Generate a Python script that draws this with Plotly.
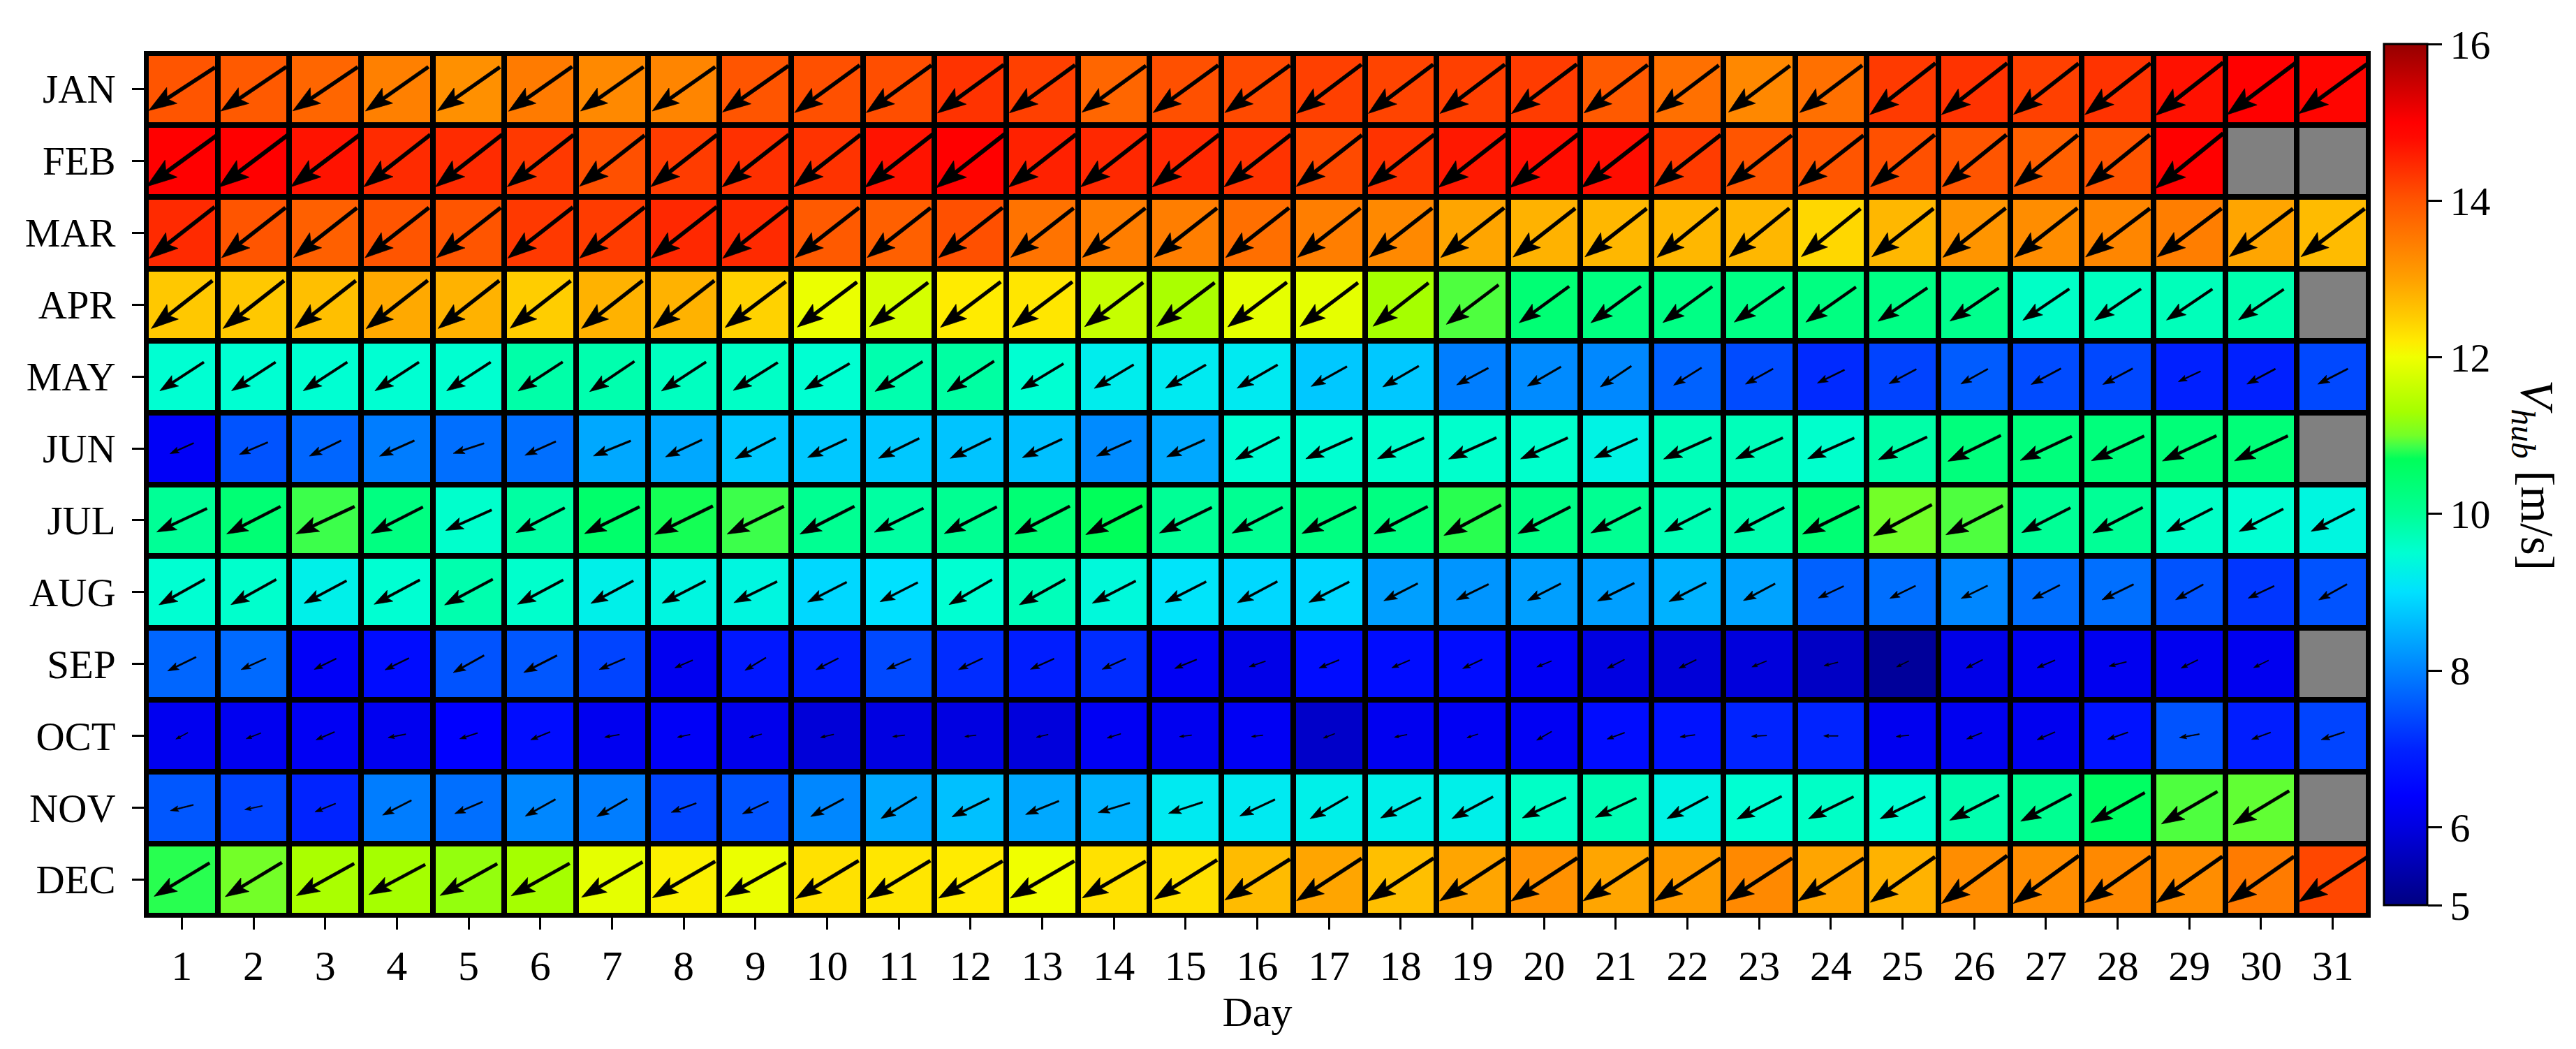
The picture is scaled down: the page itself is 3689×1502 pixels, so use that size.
import math
import plotly.graph_objects as go

MONTHS = ["JAN", "FEB", "MAR", "APR", "MAY", "JUN", "JUL", "AUG", "SEP", "OCT", "NOV", "DEC"]
DAYS = list(range(1, 32))

# daily mean hub-height wind speed [m/s] (None = day does not exist)
V_JAN = [14.0, 13.93, 13.77, 13.43, 13.21, 13.5, 13.3, 13.36, 14.0, 14.05, 14.08, 14.36, 14.22, 13.77, 14.05, 14.12,
         14.22, 14.18, 14.22, 14.27, 13.93, 13.64, 13.32, 13.64, 14.29, 14.36, 14.22, 14.36, 14.73, 15.0, 14.9]
V_FEB = [15.0, 15.0, 14.7, 14.45, 14.45, 14.3, 14.05, 14.27, 14.4, 14.36, 14.7, 15.0, 14.56, 14.48, 14.48, 14.36,
         14.12, 14.36, 14.65, 14.77, 14.77, 14.27, 14.0, 14.0, 14.05, 14.0, 13.85, 14.0, 15.0, None, None]
V_MAR = [14.46, 14.0, 13.85, 14.0, 14.0, 14.3, 14.27, 14.48, 14.46, 13.93, 13.85, 14.05, 13.6, 13.45, 13.45, 13.65,
         13.45, 13.3, 12.95, 12.8, 12.75, 12.75, 12.75, 12.4, 12.75, 13.15, 13.25, 13.35, 13.45, 12.95, 12.7]
V_APR = [12.55, 12.55, 12.65, 12.9, 12.8, 12.5, 12.8, 12.8, 12.45, 11.95, 11.75, 12.2, 12.25, 11.6, 11.35, 11.9,
         11.9, 11.3, 10.9, 10.4, 10.25, 10.2, 10.2, 10.25, 10.2, 10.1, 9.6, 9.65, 9.7, 9.8, None]
V_MAY = [9.5, 9.5, 9.5, 9.5, 9.52, 9.85, 9.8, 9.65, 9.6, 9.5, 9.8, 9.9, 9.5, 9.2, 9.15, 9.15,
         8.74, 8.74, 7.96, 8.1, 8.06, 7.66, 7.42, 7.07, 7.34, 7.6, 7.42, 7.39, 6.95, 6.95, 7.39]
V_JUN = [6.3, 7.5, 7.7, 7.95, 7.8, 7.8, 8.4, 8.4, 8.74, 8.74, 8.74, 8.7, 8.65, 8.1, 8.4, 9.5,
         9.5, 9.55, 9.55, 9.55, 9.3, 9.7, 9.7, 9.55, 9.85, 10.3, 10.3, 10.3, 10.35, 10.35, None]
V_JUL = [10.0, 10.4, 10.85, 10.25, 9.55, 9.9, 10.5, 10.75, 10.85, 10.05, 9.9, 10.05, 10.4, 10.7, 10.0, 10.05,
         10.25, 10.25, 10.8, 10.2, 10.05, 9.75, 9.8, 10.4, 11.0, 10.9, 10.0, 10.0, 9.6, 9.5, 9.35]
V_AUG = [9.5, 9.55, 9.25, 9.5, 9.8, 9.55, 9.25, 9.35, 9.35, 8.9, 9.0, 9.5, 9.7, 9.4, 9.05, 8.9,
         8.9, 8.3, 8.2, 8.3, 8.3, 8.5, 8.35, 7.65, 7.8, 8.05, 7.8, 7.8, 7.5, 7.2, 7.5]
V_SEP = [7.7, 7.75, 6.3, 6.6, 7.5, 7.55, 7.35, 6.2, 6.8, 6.9, 7.4, 7.1, 6.9, 7.1, 6.25, 6.1,
         6.6, 6.6, 6.6, 6.25, 6.0, 5.9, 5.95, 5.7, 5.25, 6.1, 6.2, 6.2, 6.2, 6.2, None]
V_OCT = [6.2, 6.2, 6.25, 6.2, 6.4, 6.6, 6.2, 6.3, 6.15, 5.9, 6.0, 6.0, 5.95, 6.25, 6.2, 6.25,
         5.75, 6.2, 6.25, 6.25, 6.6, 6.7, 7.0, 7.0, 6.2, 6.2, 6.2, 6.7, 7.5, 6.9, 7.35]
V_NOV = [7.55, 7.35, 7.0, 7.95, 7.8, 8.05, 7.95, 7.35, 7.5, 8.05, 8.4, 8.65, 8.4, 8.5, 9.15, 9.15,
         9.25, 9.25, 9.25, 9.6, 9.75, 9.3, 9.5, 9.6, 9.5, 9.8, 10.05, 10.6, 10.9, 10.95, None]
V_DEC = [10.8, 11.0, 11.35, 11.3, 11.2, 11.3, 11.9, 12.15, 11.95, 12.3, 12.25, 12.2, 12.0, 12.3, 12.3, 12.7,
         12.95, 12.65, 12.95, 13.2, 12.95, 13.05, 13.3, 12.95, 12.8, 13.25, 13.25, 13.3, 13.25, 13.5, 14.15]

# mean wind vector: arrow length (in cell widths) and direction (deg below the horizontal, towards the left)
L_JAN = [1.10, 1.10, 1.09, 1.07, 1.06, 1.08, 1.07, 1.07, 1.12, 1.12, 1.12, 1.14, 1.13, 1.10, 1.12, 1.12,
         1.13, 1.13, 1.13, 1.14, 1.11, 1.09, 1.07, 1.09, 1.16, 1.16, 1.15, 1.16, 1.19, 1.19, 1.17]
L_FEB = [1.22, 1.22, 1.20, 1.18, 1.18, 1.17, 1.15, 1.17, 1.18, 1.18, 1.20, 1.22, 1.19, 1.18, 1.18, 1.18,
         1.16, 1.18, 1.20, 1.21, 1.21, 1.17, 1.15, 1.15, 1.15, 1.15, 1.14, 1.15, 1.21, None, None]
L_MAR = [1.16, 1.13, 1.12, 1.13, 1.13, 1.15, 1.15, 1.16, 1.16, 1.13, 1.12, 1.13, 1.11, 1.11, 1.11, 1.12,
         1.11, 1.11, 1.12, 1.10, 1.09, 1.09, 1.08, 1.06, 1.09, 1.11, 1.11, 1.12, 1.12, 1.11, 1.11]
L_APR = [1.08, 1.08, 1.08, 1.09, 1.08, 1.07, 1.08, 1.08, 1.06, 1.04, 1.02, 1.05, 1.05, 1.02, 1.01, 1.03,
         1.01, 0.98, 0.91, 0.86, 0.86, 0.85, 0.85, 0.85, 0.83, 0.82, 0.78, 0.78, 0.77, 0.76, None]
L_MAY = [0.73, 0.73, 0.73, 0.73, 0.73, 0.74, 0.75, 0.74, 0.73, 0.72, 0.78, 0.78, 0.69, 0.64, 0.65, 0.65,
         0.57, 0.58, 0.50, 0.54, 0.52, 0.46, 0.44, 0.42, 0.43, 0.43, 0.47, 0.47, 0.34, 0.45, 0.47]
L_JUN = [0.36, 0.43, 0.49, 0.53, 0.45, 0.47, 0.56, 0.56, 0.63, 0.60, 0.63, 0.63, 0.61, 0.53, 0.58, 0.69,
         0.71, 0.71, 0.73, 0.72, 0.66, 0.73, 0.72, 0.71, 0.75, 0.82, 0.79, 0.81, 0.83, 0.82, None]
L_JUL = [0.77, 0.84, 0.90, 0.81, 0.70, 0.76, 0.85, 0.90, 0.88, 0.85, 0.76, 0.82, 0.86, 0.88, 0.81, 0.79,
         0.84, 0.84, 0.90, 0.82, 0.78, 0.72, 0.78, 0.88, 0.92, 0.89, 0.76, 0.78, 0.72, 0.69, 0.68]
L_AUG = [0.73, 0.72, 0.67, 0.72, 0.76, 0.72, 0.67, 0.68, 0.67, 0.61, 0.59, 0.69, 0.73, 0.68, 0.64, 0.63,
         0.63, 0.53, 0.50, 0.52, 0.57, 0.58, 0.50, 0.39, 0.40, 0.41, 0.43, 0.49, 0.44, 0.40, 0.45]
L_SEP = [0.44, 0.38, 0.34, 0.37, 0.49, 0.52, 0.39, 0.27, 0.34, 0.35, 0.37, 0.37, 0.36, 0.36, 0.33, 0.24,
         0.30, 0.27, 0.30, 0.22, 0.27, 0.27, 0.22, 0.20, 0.19, 0.26, 0.27, 0.25, 0.26, 0.23, None]
L_OCT = [0.19, 0.22, 0.28, 0.25, 0.26, 0.29, 0.21, 0.18, 0.18, 0.19, 0.17, 0.16, 0.17, 0.20, 0.17, 0.16,
         0.17, 0.18, 0.16, 0.24, 0.26, 0.21, 0.21, 0.20, 0.18, 0.23, 0.27, 0.30, 0.28, 0.28, 0.34]
L_NOV = [0.33, 0.25, 0.31, 0.45, 0.42, 0.48, 0.49, 0.37, 0.40, 0.52, 0.58, 0.58, 0.50, 0.46, 0.50, 0.54,
         0.61, 0.63, 0.65, 0.67, 0.63, 0.65, 0.70, 0.70, 0.70, 0.77, 0.80, 0.86, 0.90, 0.91, None]
L_DEC = [0.90, 0.92, 0.92, 0.89, 0.91, 0.93, 0.98, 1.01, 0.97, 1.02, 1.02, 1.03, 1.03, 1.02, 1.03, 1.07,
         1.08, 1.09, 1.09, 1.10, 1.09, 1.09, 1.09, 1.09, 1.10, 1.13, 1.13, 1.12, 1.12, 1.12, 1.13]

D_JAN = [33, 34, 34, 35, 35, 35, 35, 35, 35, 36, 36, 36, 36, 36, 36, 36,
         37, 37, 37, 37, 37, 37, 37, 37, 38, 38, 38, 38, 38, 37, 36]
D_FEB = [36, 37, 37, 38, 38, 38, 38, 38, 38, 38, 38, 38, 38, 38, 38, 38,
         38, 38, 38, 38, 38, 38, 38, 38, 39, 39, 39, 39, 39, None, None]
D_MAR = [38, 38, 38, 38, 38, 38, 38, 38, 38, 38, 38, 38, 38, 38, 38, 38,
         38, 38, 38, 38, 38, 39, 39, 39, 38, 38, 38, 37, 37, 37, 37]
D_APR = [38, 38, 38, 38, 38, 38, 38, 38, 37, 37, 37, 37, 37, 37, 37, 37,
         37, 38, 37, 36, 36, 36, 35, 35, 34, 34, 34, 34, 34, 34, None]
D_MAY = [33, 33, 33, 33, 33, 33, 34, 33, 32, 30, 32, 33, 31, 31, 30, 30,
         29, 30, 28, 30, 34, 32, 29, 26, 28, 29, 28, 28, 25, 28, 27]
D_JUN = [24, 23, 26, 24, 18, 24, 22, 25, 27, 25, 26, 26, 25, 24, 24, 27,
         24, 24, 24, 24, 24, 24, 24, 24, 25, 26, 25, 25, 25, 25, None]
D_JUL = [25, 27, 25, 27, 24, 27, 26, 26, 26, 27, 26, 27, 27, 27, 26, 27,
         26, 27, 28, 27, 27, 27, 27, 26, 28, 27, 27, 27, 27, 27, 27]
D_AUG = [29, 29, 28, 28, 28, 28, 28, 27, 26, 27, 27, 30, 29, 27, 27, 28,
         27, 27, 26, 27, 26, 27, 28, 25, 26, 26, 27, 26, 29, 25, 29]
D_SEP = [26, 24, 26, 26, 29, 27, 23, 23, 31, 27, 23, 25, 24, 24, 22, 19,
         22, 23, 25, 22, 27, 26, 22, 14, 26, 27, 23, 14, 26, 26, None]
D_OCT = [28, 21, 23, 11, 18, 22, 10, 12, 16, 13, 7, 7, 13, 17, 7, 7,
         21, 12, 18, 30, 20, 8, 3, 0, 6, 22, 23, 19, 10, 20, 18]
D_NOV = [14, 12, 22, 27, 23, 29, 30, 20, 25, 28, 31, 26, 22, 17, 18, 25,
         30, 27, 28, 25, 25, 28, 27, 26, 26, 27, 28, 29, 30, 31, None]
D_DEC = [31, 31, 29, 28, 29, 29, 30, 30, 29, 31, 31, 30, 30, 30, 32, 32,
         33, 33, 33, 33, 33, 33, 33, 33, 35, 36, 36, 35, 35, 35, 33]

SPEED = [V_JAN, V_FEB, V_MAR, V_APR, V_MAY, V_JUN, V_JUL, V_AUG, V_SEP, V_OCT, V_NOV, V_DEC]
ARROW_LEN = [L_JAN, L_FEB, L_MAR, L_APR, L_MAY, L_JUN, L_JUL, L_AUG, L_SEP, L_OCT, L_NOV, L_DEC]
ARROW_DIR = [D_JAN, D_FEB, D_MAR, D_APR, D_MAY, D_JUN, D_JUL, D_AUG, D_SEP, D_OCT, D_NOV, D_DEC]

CB_TICKS = [5, 6, 8, 10, 12, 14, 16]
VMIN, VMAX = 5, 16

# jet-like colour map as seen on the colour bar
CMAP = [(5.0, (0, 0, 130)), (6.0, (0, 0, 225)), (6.4, (0, 0, 255)), (7.0, (0, 35, 255)),
        (8.0, (0, 130, 255)), (9.0, (0, 225, 255)), (9.5, (0, 255, 210)), (10.0, (0, 255, 150)),
        (10.7, (0, 255, 90)), (10.85, (60, 255, 75)), (11.0, (115, 255, 40)), (11.3, (165, 255, 0)),
        (12.0, (240, 255, 0)), (12.2, (255, 235, 0)), (12.5, (255, 205, 0)), (13.0, (255, 160, 0)),
        (14.0, (255, 85, 0)), (14.8, (255, 10, 0)), (15.0, (255, 0, 0)), (16.0, (150, 0, 0))]
colorscale = [[(v - VMIN) / (VMAX - VMIN), "rgb(%d,%d,%d)" % c] for v, c in CMAP]

FONT = "Liberation Serif"
rows = list(range(len(MONTHS)))

missing = [[1 if v is None else None for v in row] for row in SPEED]

# quiver-style arrows (pivot in the cell centre), built as filled polygons
ax_x, ax_y = [], []
for m in rows:
    for d in range(len(DAYS)):
        L = ARROW_LEN[m][d]
        if L is None:
            continue
        th = math.radians(ARROW_DIR[m][d])
        ux, uy = -math.cos(th), math.sin(th)  # y axis is reversed: +y is down
        px, py = -uy, ux
        tx, ty = DAYS[d] - ux * L / 2, m - uy * L / 2
        hl, hal, hw, sw = 0.35 * L, 0.29 * L, 0.12 * L, 0.022 * L
        for s, t in [(0, -sw), (L - hal, -sw), (L - hl, -hw), (L, 0), (L - hl, hw), (L - hal, sw), (0, sw), (0, -sw)]:
            ax_x.append(tx + s * ux + t * px)
            ax_y.append(ty + s * uy + t * py)
        ax_x.append(None)
        ax_y.append(None)

fig = go.Figure()
fig.add_trace(go.Heatmap(
    x=DAYS, y=rows, z=SPEED, zmin=VMIN, zmax=VMAX, colorscale=colorscale,
    xgap=8, ygap=8, hoverongaps=False,
    colorbar=dict(
        thickness=62, len=0.998, lenmode="fraction", y=0.511, yanchor="middle",
        x=1.007, xanchor="left", xpad=0, ypad=0,
        outlinewidth=3, outlinecolor="black",
        tickvals=CB_TICKS, ticktext=[str(t) for t in CB_TICKS],
        ticks="outside", ticklen=20, tickwidth=3, tickcolor="black",
        tickfont=dict(family=FONT, size=58, color="black"),
    ),
))
fig.add_trace(go.Heatmap(
    x=DAYS, y=rows, z=missing, zmin=0, zmax=1,
    colorscale=[[0, "rgb(128,128,128)"], [1, "rgb(128,128,128)"]],
    showscale=False, xgap=8, ygap=8, hoverinfo="skip",
))
fig.add_trace(go.Scatter(
    x=ax_x, y=ax_y, mode="lines", fill="toself", fillcolor="black",
    line=dict(color="black", width=0.7), hoverinfo="skip", showlegend=False,
))

fig.update_xaxes(
    range=[0.5, 31.5], tickvals=DAYS, ticktext=[str(d) for d in DAYS],
    ticks="outside", ticklen=17, tickwidth=3, tickcolor="black",
    showgrid=False, zeroline=False, showline=True, linecolor="black", linewidth=3, mirror=True,
    tickfont=dict(family=FONT, size=60, color="black"),
    title=dict(text="Day", font=dict(family=FONT, size=60, color="black"), standoff=6),
)
fig.update_yaxes(
    range=[11.5, -0.5], tickvals=rows, ticktext=MONTHS,
    ticks="outside", ticklen=17, tickwidth=3, tickcolor="black", ticklabelstandoff=12,
    showgrid=False, zeroline=False, showline=True, linecolor="black", linewidth=3, mirror=True,
    tickfont=dict(family=FONT, size=57, color="black"),
)
fig.add_annotation(
    text="<i>V</i><sub><i>hub</i></sub> [m/s]", xref="paper", yref="paper",
    x=1.0745, y=0.511, xanchor="center", yanchor="middle", textangle=90, showarrow=False,
    font=dict(family=FONT, size=68, color="black"),
)
fig.update_layout(
    width=3689, height=1502,
    margin=dict(l=201, r=305, t=68, b=199),
    plot_bgcolor="black", paper_bgcolor="white",
    showlegend=False,
)
fig.write_html("out.html")
